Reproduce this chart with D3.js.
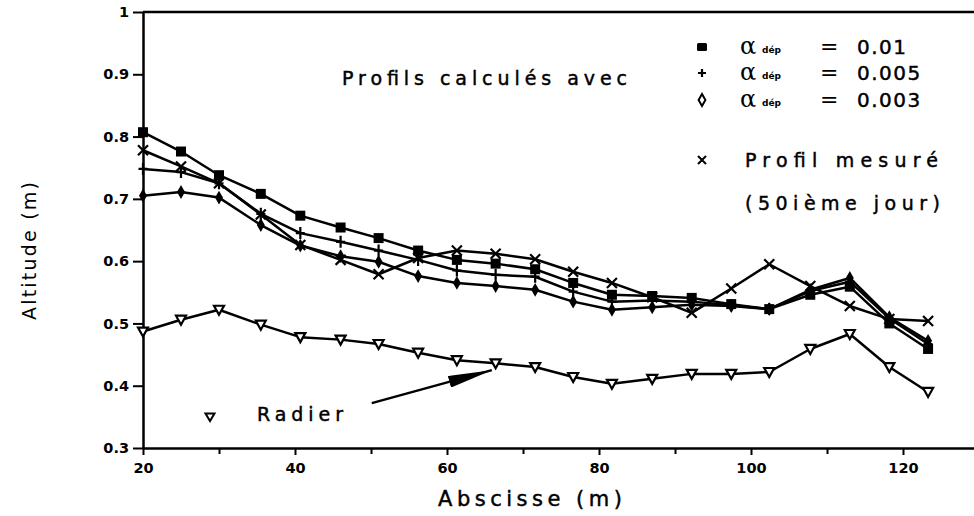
<!DOCTYPE html>
<html>
<head>
<meta charset="utf-8">
<script src="https://cdn.jsdelivr.net/npm/d3@7"></script>
<style>
  body { margin: 0; background: #fff; }
  text { font-family: "DejaVu Sans", sans-serif; fill: #000; }
  .heavy { stroke: #000; stroke-width: 0.45px; }
  .tick text { font-weight: bold; font-size: 14.5px; }
</style>
</head>
<body>
<div class="wrapper"></div>
<script>
// abscissa of the cross-sections (m)
const abscisse = [20, 25, 30, 35.5, 40.7, 46, 51, 56.2, 61.3, 66.4, 71.6, 76.6, 81.7, 87, 92.2, 97.4, 102.4, 107.8, 113, 118.2, 123.3]

// computed profiles
const alpha001 = [0.807, 0.776, 0.738, 0.708, 0.673, 0.654, 0.637, 0.617, 0.602, 0.596, 0.587, 0.565, 0.546, 0.544, 0.541, 0.531, 0.523, 0.546, 0.559, 0.500, 0.459]
const alpha0005 = [0.748, 0.743, 0.725, 0.676, 0.645, 0.631, 0.617, 0.602, 0.585, 0.578, 0.575, 0.551, 0.535, 0.537, 0.535, 0.529, 0.523, 0.552, 0.567, 0.508, 0.467]
const alpha0003 = [0.705, 0.711, 0.702, 0.658, 0.625, 0.608, 0.599, 0.576, 0.565, 0.560, 0.554, 0.535, 0.522, 0.526, 0.530, 0.528, 0.523, 0.554, 0.573, 0.510, 0.472]
// measured profile (day 50) and bed
const mesure = [0.778, 0.752, 0.725, 0.675, 0.626, 0.602, 0.579, 0.605, 0.617, 0.612, 0.603, 0.583, 0.565, 0.542, 0.517, 0.556, 0.595, 0.560, 0.528, 0.507, 0.504]
const radier = [0.487, 0.506, 0.522, 0.498, 0.478, 0.474, 0.467, 0.453, 0.441, 0.436, 0.430, 0.414, 0.403, 0.411, 0.419, 0.419, 0.422, 0.459, 0.483, 0.430, 0.390]

const xTicks = [20, 40, 60, 80, 100, 120]
const xMinor = [30, 50, 70, 90, 110]
const yTicks = [0.3, 0.4, 0.5, 0.6, 0.7, 0.8, 0.9, 1]
const alphaLabels = ['0.01', '0.005', '0.003']

const width = 974, height = 516

const svg = d3.select('.wrapper')
  .append('svg')
  .attr('width', width)
  .attr('height', height)

const x = d3.scaleLinear().domain([20, 130]).range([143, 979])
const y = d3.scaleLinear().domain([0.3, 1]).range([448, 12])

// axes
svg.append('g')
  .attr('transform', `translate(0, ${y(0.3)})`)
  .call(d3.axisBottom(x).tickValues(xTicks).tickSize(7).tickSizeOuter(0).tickPadding(8).tickFormat(d3.format('d')))
  .call(g => g.select('.domain').attr('stroke-width', 2.5))
  .call(g => g.selectAll('.tick line').attr('stroke-width', 2))

svg.append('g')
  .attr('transform', `translate(0, ${y(0.3)})`)
  .call(d3.axisBottom(x).tickValues(xMinor).tickSize(6).tickFormat(''))
  .call(g => g.select('.domain').remove())
  .call(g => g.selectAll('.tick line').attr('stroke-width', 2))

svg.append('g')
  .attr('transform', `translate(${x(20)}, 0)`)
  .call(d3.axisLeft(y).tickValues(yTicks).tickSize(10).tickSizeOuter(0).tickPadding(4)
    .tickFormat(d => d === 1 ? '1' : d3.format('.1f')(d)))
  .call(g => g.select('.domain').attr('stroke-width', 2.5))
  .call(g => g.selectAll('.tick line').attr('stroke-width', 2))

// top frame
svg.append('line')
  .attr('x1', x(20)).attr('x2', width)
  .attr('y1', y(1)).attr('y2', y(1))
  .attr('stroke', '#000').attr('stroke-width', 2.5)

// axis titles
svg.append('text')
  .attr('class', 'heavy')
  .attr('x', 438).attr('y', 506)
  .attr('font-size', 21)
  .attr('textLength', 184).attr('lengthAdjust', 'spacing')
  .text('Abscisse (m)')

svg.append('text')
  .attr('transform', 'translate(36, 320) rotate(-90)')
  .attr('font-size', 19)
  .attr('font-family', '"Liberation Sans", sans-serif')
  .attr('textLength', 138).attr('lengthAdjust', 'spacing')
  .text('Altitude (m)')

const line = d3.line()
  .x((d, i) => x(abscisse[i]))
  .y(d => y(d))

const series = [
  { values: alpha001, mark: 'square' },
  { values: alpha0005, mark: 'plus' },
  { values: alpha0003, mark: 'diamond' },
  { values: mesure, mark: 'cross' },
  { values: radier, mark: 'triangle' },
]

series.forEach(s => {
  svg.append('path')
    .datum(s.values)
    .attr('fill', 'none')
    .attr('stroke', '#000')
    .attr('stroke-width', 2.5)
    .attr('stroke-linejoin', 'round')
    .attr('d', line)
})

function drawMark(g, mark) {
  if (mark === 'square') {
    g.append('path').attr('d', d3.symbol(d3.symbolSquare, 100)).attr('fill', '#000')
  } else if (mark === 'plus') {
    g.append('path').attr('d', 'M-4.5,0H4.5M0,-6V6')
      .attr('stroke', '#000').attr('stroke-width', 2.2).attr('fill', 'none')
  } else if (mark === 'diamond') {
    g.append('path').attr('d', d3.symbol(d3.symbolDiamond, 55)).attr('fill', '#000')
  } else if (mark === 'cross') {
    g.append('path').attr('d', 'M-5,-5L5,5M-5,5L5,-5')
      .attr('stroke', '#000').attr('stroke-width', 2.2).attr('fill', 'none')
  } else if (mark === 'triangle') {
    g.append('path').attr('d', 'M-5,-4L5,-4L0,5Z')
      .attr('stroke', '#000').attr('stroke-width', 2.2).attr('fill', '#fff')
  }
}

series.forEach(s => {
  s.values.forEach((v, i) => {
    const g = svg.append('g').attr('transform', `translate(${x(abscisse[i])}, ${y(v)})`)
    drawMark(g, s.mark)
  })
})

// legend text
svg.append('text')
  .attr('class', 'heavy')
  .attr('x', 342).attr('y', 85)
  .attr('font-size', 19)
  .attr('textLength', 285).attr('lengthAdjust', 'spacing')
  .text('Profils calculés avec')

const legendRows = [
  { mark: 'square', label: alphaLabels[0], yy: 47 },
  { mark: 'plus', label: alphaLabels[1], yy: 73 },
  { mark: 'diamond', label: alphaLabels[2], yy: 100 },
]

legendRows.forEach(r => {
  const g = svg.append('g').attr('transform', `translate(702, ${r.yy})`)
  if (r.mark === 'diamond') {
    g.append('path').attr('d', d3.symbol(d3.symbolDiamond, 40)).attr('fill', '#fff')
      .attr('stroke', '#000').attr('stroke-width', 2)
  } else if (r.mark === 'square') {
    g.append('rect').attr('x', -5).attr('y', -4).attr('width', 10).attr('height', 8).attr('rx', 1.5).attr('fill', '#000')
  } else {
    g.append('path').attr('d', 'M-4,0H4M0,-4V4').attr('stroke', '#000').attr('stroke-width', 2.2)
  }
  const t = svg.append('text').attr('y', r.yy + 7)
  t.append('tspan').attr('x', 740).attr('font-size', 24).attr('font-family', '"DejaVu Serif", serif').text('α')
  t.append('tspan').attr('x', 762).attr('font-size', 9).attr('font-weight', 'bold').attr('dy', -1).text('dép')
  t.append('tspan').attr('x', 820).attr('font-size', 22).attr('dy', 1).text('=')
  svg.append('text').attr('class', 'heavy').attr('x', 857).attr('y', r.yy + 7).attr('font-size', 20)
    .attr('letter-spacing', 1.5).text(r.label)
})

const gx = svg.append('g').attr('transform', 'translate(702, 160)')
gx.append('path').attr('d', 'M-4,-4L4,4M-4,4L4,-4').attr('stroke', '#000').attr('stroke-width', 2)

svg.append('text')
  .attr('class', 'heavy')
  .attr('x', 745).attr('y', 167)
  .attr('font-size', 19)
  .attr('textLength', 193).attr('lengthAdjust', 'spacing')
  .text('Profil mesuré')

svg.append('text')
  .attr('class', 'heavy')
  .attr('x', 745).attr('y', 210)
  .attr('font-size', 19)
  .attr('textLength', 195).attr('lengthAdjust', 'spacing')
  .text('(50ième jour)')

// bed legend + arrow
const gr = svg.append('g').attr('transform', 'translate(210, 417)')
gr.append('path').attr('d', 'M-4.5,-3.5L4.5,-3.5L0,4Z').attr('stroke', '#000').attr('stroke-width', 2).attr('fill', '#fff')

svg.append('text')
  .attr('class', 'heavy')
  .attr('x', 257).attr('y', 421)
  .attr('font-size', 19)
  .attr('textLength', 86).attr('lengthAdjust', 'spacing')
  .text('Radier')

svg.append('defs').append('marker')
  .attr('id', 'arrow')
  .attr('viewBox', '0 0 44 12')
  .attr('refX', 44).attr('refY', 6)
  .attr('markerWidth', 44).attr('markerHeight', 12)
  .attr('markerUnits', 'userSpaceOnUse')
  .attr('orient', 'auto')
  .append('path')
  .attr('d', 'M0,0L44,6L0,12Z')
  .attr('fill', '#000')

svg.append('line')
  .attr('x1', x(50.1)).attr('y1', y(0.372))
  .attr('x2', x(65.9)).attr('y2', y(0.425))
  .attr('stroke', '#000').attr('stroke-width', 2.5)
  .attr('marker-end', 'url(#arrow)')
</script>
</body>
</html>
